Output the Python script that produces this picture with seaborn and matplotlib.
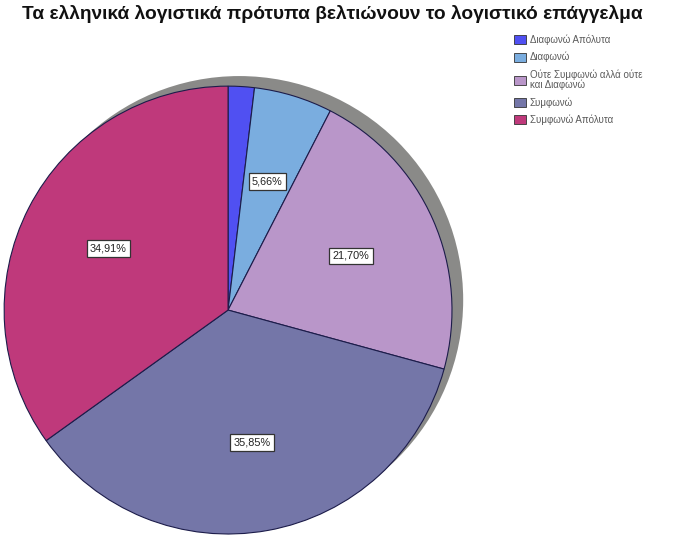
import matplotlib
matplotlib.use("Agg")
import matplotlib.pyplot as plt
from matplotlib.patches import Circle
import seaborn as sns

# Responses (counts) per answer category
categories = [
    "Διαφωνώ Απόλυτα",
    "Διαφωνώ",
    "Ούτε Συμφωνώ αλλά ούτε\nκαι Διαφωνώ",
    "Συμφωνώ",
    "Συμφωνώ Απόλυτα",
]
counts = [2, 6, 23, 38, 37]
title = "Τα ελληνικά λογιστικά πρότυπα βελτιώνουν το λογιστικό επάγγελμα"

sns.set_theme(style="white")
plt.rcParams["font.family"] = ["Liberation Sans", "DejaVu Sans"]

colors = sns.color_palette(["#5050f2", "#7aaddf", "#b996c9", "#7476a8", "#bf397b"])

fig = plt.figure(figsize=(6.82, 5.37), dpi=100)
ax = fig.add_axes([0.0059, 0.0056, 0.657, 0.834])
ax.set_aspect("equal")
ax.axis("off")

# gray drop shadow behind the pie
ax.add_patch(Circle((0.05, 0.045), 1.0, facecolor="#8a8a88", edgecolor="none",
                    zorder=0, clip_on=False))


def pct_label(p):
    if p < 3:
        return ""
    return f"{p:.2f}%".replace(".", ",")


wedges, texts, autotexts = ax.pie(
    counts,
    colors=colors,
    startangle=90,
    counterclock=False,
    autopct=pct_label,
    pctdistance=0.6,
    radius=1.0,
    wedgeprops=dict(edgecolor="#1c1c4a", linewidth=0.8),
    textprops=dict(fontsize=7.8, color="#222222"),
    frame=False,
)
ax.set_xlim(-1.0, 1.0)
ax.set_ylim(-1.0, 1.0)
for w in wedges:
    w.set_zorder(2)
for t in autotexts:
    t.set_zorder(3)
    if t.get_text():
        t.set_bbox(dict(boxstyle="square,pad=0.3", facecolor="white",
                        edgecolor="#333333", linewidth=0.9))

fig.text(0.032, 0.974, title, fontsize=13.8, fontweight="bold",
         color="#111111", ha="left", va="center")

leg = fig.legend(
    wedges, categories,
    loc="upper left", bbox_to_anchor=(0.748, 0.943),
    frameon=False, fontsize=7, handlelength=1.25, handleheight=1.0,
    handletextpad=0.35, labelspacing=0.72, borderaxespad=0.0,
)
for t in leg.get_texts():
    t.set_color("#5a5a5a")
    t.set_linespacing(0.95)
for h in leg.legend_handles:
    h.set_edgecolor("#333333")
    h.set_linewidth(0.6)

fig.savefig("out.png", dpi=100)
